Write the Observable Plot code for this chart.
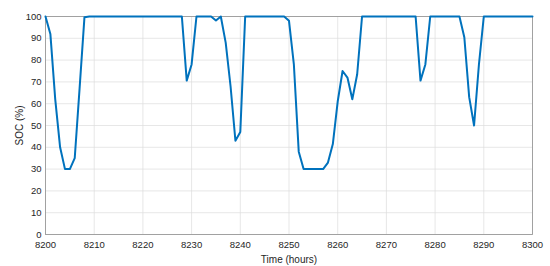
<!DOCTYPE html>
<html>
<head>
<meta charset="utf-8">
<script src="https://cdn.jsdelivr.net/npm/d3@7"></script>
<script src="https://cdn.jsdelivr.net/npm/@observablehq/plot@0.6"></script>
<style>
  html, body { margin: 0; padding: 0; background: #fff; }
  svg { font-family: "Liberation Sans", Arial, Helvetica, sans-serif; }
</style>
</head>
<body>
<div id="chart"></div>
<script>
const startHour = 8200;
const soc = [
  100, 92, 62, 40, 30, 30, 35, 67, 99.7, 100,          // 8200-8209
  100, 100, 100, 100, 100, 100, 100, 100, 100, 100,    // 8210-8219
  100, 100, 100, 100, 100, 100, 100, 100, 100, 70.6,   // 8220-8229
  78, 100, 100, 100, 100, 98.2, 100, 88, 68, 43,       // 8230-8239
  47, 100, 100, 100, 100, 100, 100, 100, 100, 100,     // 8240-8249
  98, 78, 38, 30, 30, 30, 30, 30, 33, 41.5,            // 8250-8259
  61, 75, 72, 62, 73.5, 100, 100, 100, 100, 100,       // 8260-8269
  100, 100, 100, 100, 100, 100, 100, 70.6, 78, 100,    // 8270-8279
  100, 100, 100, 100, 100, 100, 90.5, 63, 50, 78,      // 8280-8289
  100, 100, 100, 100, 100, 100, 100, 100, 100, 100,    // 8290-8299
  100                                                  // 8300
];
const xTicks = [8200, 8210, 8220, 8230, 8240, 8250, 8260, 8270, 8280, 8290, 8300];
const yTicks = [0, 10, 20, 30, 40, 50, 60, 70, 80, 90, 100];

const data = soc.map((v, i) => ({hour: startHour + i, soc: v}));

const chart = Plot.plot({
  width: 550,
  height: 266,
  marginLeft: 45,
  marginRight: 18,
  marginTop: 16,
  marginBottom: 32,
  style: {fontSize: "9.5px", color: "#262626", background: "#fff"},
  x: {domain: [8200, 8300], ticks: xTicks, label: "Time (hours)", labelAnchor: "center", labelArrow: "none"},
  y: {domain: [0, 100], ticks: yTicks, label: "SOC (%)", labelAnchor: "center", labelArrow: "none"},
  marks: [
    Plot.gridX(xTicks, {stroke: "#dcdcdc", strokeOpacity: 1, strokeWidth: 0.7}),
    Plot.gridY(yTicks, {stroke: "#dcdcdc", strokeOpacity: 1, strokeWidth: 0.7}),
    Plot.axisX({ticks: xTicks, tickSize: 0, tickPadding: 7, fontSize: 9.5, tickFormat: d3.format("d"), label: null}),
    Plot.axisX({ticks: [], label: "Time (hours)", labelAnchor: "center", labelArrow: "none", labelOffset: 28, fontSize: 10}),
    Plot.axisY({ticks: yTicks, tickSize: 0, tickPadding: 4, fontSize: 9.5, tickFormat: d3.format("d"), label: null}),
    Plot.axisY({ticks: [], label: "SOC (%)", labelAnchor: "center", labelArrow: "none", labelOffset: 30, fontSize: 10}),
    Plot.frame({stroke: "#9a9a9a", strokeWidth: 0.9}),
    Plot.line(data, {x: "hour", y: "soc", stroke: "#0072BD", strokeWidth: 2})
  ]
});
document.getElementById("chart").appendChild(chart);
</script>
</body>
</html>
